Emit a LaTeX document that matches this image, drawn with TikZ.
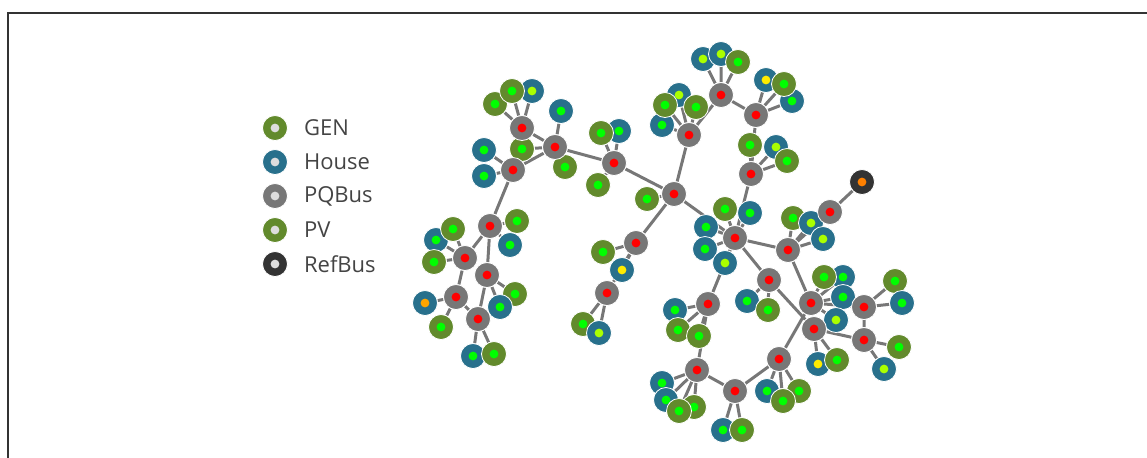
\documentclass[tikz,border=0pt]{standalone}
\usepackage{fontspec}
\setmainfont{Open Sans}
\usetikzlibrary{backgrounds}

\definecolor{busgray}{HTML}{777777}
\definecolor{olive}{HTML}{628A2C}
\definecolor{teal}{HTML}{28708C}
\definecolor{refdark}{HTML}{333333}
\definecolor{lime}{HTML}{00FF00}
\definecolor{chart}{HTML}{AAFF00}
\definecolor{amber}{HTML}{FFEB00}
\definecolor{orng}{HTML}{FFA500}
\definecolor{keydot}{HTML}{DDDDDD}
\definecolor{keytext}{HTML}{444444}

\begin{document}
\begin{tikzpicture}[x=0.5pt,y=-0.5pt,
	bus/.style={circle,draw=white,line width=0.4pt,minimum size=12.5pt,inner sep=0pt},
	dot/.style={path picture={\fill[#1] (path picture bounding box.center) circle (2.2pt);}},
	pq/.style={bus,fill=busgray,dot=red},
	pv/.style={bus,fill=olive,dot=#1}, pv/.default=lime,
	house/.style={bus,fill=teal,dot=#1}, house/.default=lime,
	refbus/.style={bus,fill=refdark,dot=orange},
	wire/.style={busgray,line width=1.5pt}]
	\useasboundingbox (0,0) rectangle (1147,457);
	\clip (0,0) rectangle (1147,457);
	% frame
	\draw[refdark,line width=1pt] (7.5,470) -- (7.5,12.5) -- (1160,12.5);

	% legend
	\node[pv=keydot] (k1) at (275,128) {};
	\node[house=keydot] (k2) at (275,162) {};
	\node[bus,fill=busgray,dot=keydot] (k3) at (275,196) {};
	\node[pv=keydot] (k4) at (275,230) {};
	\node[bus,fill=refdark,dot=keydot] (k5) at (275,264) {};
	\begin{scope}[every node/.style={anchor=west,text=keytext,font=\fontsize{11}{13}\selectfont}]
	\node at (297,128) {GEN};
	\node at (297,162) {House};
	\node at (297,196) {PQBus};
	\node at (297,230) {PV};
	\node at (297,264) {RefBus};
	\end{scope}

	% leaves
	\node[pv] (b1a) at (495,104) {};
	\node[house=chart] (b1c) at (532,91) {};
	\node[pv] (b1b) at (512,91) {};
	\node[house] (b2a) at (561,111) {};
	\node[pv] (b2b) at (522,149) {};
	\node[pv] (b2c) at (565,167) {};
	\node[house] (b3a) at (484,150) {};
	\node[house] (b3b) at (484,176) {};
	\node[house] (b4b) at (619,131) {};
	\node[pv] (b4a) at (601,133) {};
	\node[pv] (b4c) at (598,185) {};
	\node[pv] (b5a) at (647,199) {};
	\node[house=chart] (b6c) at (679,95) {};
	\node[house] (b6a) at (662,125) {};
	\node[pv] (b6b) at (665,105) {};
	\node[pv] (b6d) at (696,107) {};
	\node[house=chart] (b7a) at (703,59) {};
	\node[house=chart] (b7b) at (721,54) {};
	\node[pv] (b7c) at (738,62) {};
	\node[house=amber] (b8a) at (766,80) {};
	\node[house] (b8c) at (792,101) {};
	\node[pv] (b8b) at (784,84) {};
	\node[pv] (b9a) at (750,145) {};
	\node[house=chart] (b9b) at (776,147) {};
	\node[pv] (b9c) at (787,161) {};
	\node[pv] (b10a) at (603,252) {};
	\node[house=amber] (b10b) at (622,270) {};
	\node[pv] (b11a) at (583,324) {};
	\node[house=chart] (b11b) at (599,333) {};
	\node[pv] (b12a) at (725,209) {};
	\node[house] (b12b) at (750,213) {};
	\node[house] (b12c) at (706,227) {};
	\node[house] (b12d) at (705,249) {};
	\node[house=chart] (b12e) at (725,263) {};
	\node[pv] (b14a) at (793,218) {};
	\node[house=chart] (b14b) at (811,223) {};
	\node[house=chart] (b14c) at (823,239) {};
	\node[house] (b15a) at (747,301) {};
	\node[pv] (b15b) at (768,310) {};
	\node[house] (b16b) at (843,277) {};
	\node[pv] (b16a) at (824,277) {};
	\node[house] (b16c) at (843,297) {};
	\node[house=chart] (b16d) at (836,320) {};
	\node[pv] (b17a) at (895,281) {};
	\node[house] (b17b) at (902,303) {};
	\node[pv] (b18a) at (899,347) {};
	\node[house=chart] (b18b) at (884,369) {};
	\node[house=amber] (b19a) at (818,364) {};
	\node[pv] (b19b) at (837,360) {};
	\node[house] (b20a) at (675,310) {};
	\node[pv] (b20b) at (678,330) {};
	\node[pv] (b20c) at (699,336) {};
	\node[house] (b21a) at (662,383) {};
	\node[house] (b21b) at (666,400) {};
	\node[pv] (b21d) at (694,407) {};
	\node[pv] (b21c) at (679,411) {};
	\node[house] (b22a) at (723,430) {};
	\node[pv] (b22b) at (742,430) {};
	\node[house] (b23a) at (767,391) {};
	\node[pv] (b23c) at (799,391) {};
	\node[pv] (b23b) at (783,401) {};
	\node[pv] (b24a) at (517,221) {};
	\node[house] (b24b) at (510,245) {};
	\node[house] (b25a) at (436,240) {};
	\node[pv] (b25b) at (453,229) {};
	\node[pv] (b25c) at (434,262) {};
	\node[pv] (b26a) at (515,294) {};
	\node[house] (b26b) at (500,307) {};
	\node[house=orng] (b27a) at (425,303) {};
	\node[pv] (b27b) at (441,327) {};
	\node[house] (b28a) at (473,356) {};
	\node[pv] (b28b) at (494,354) {};

	% buses
	\node[pq] (b1) at (522,128) {};
	\node[pq] (b2) at (555,147) {};
	\node[pq] (b3) at (513,170) {};
	\node[pq] (b4) at (614,163) {};
	\node[pq] (b5) at (674,194) {};
	\node[pq] (b6) at (689,135) {};
	\node[pq] (b7) at (721,95) {};
	\node[pq] (b8) at (756,115) {};
	\node[pq] (b9) at (751,174) {};
	\node[pq] (b10) at (636,243) {};
	\node[pq] (b11) at (607,293) {};
	\node[pq] (b12) at (735,238) {};
	\node[pq] (b13) at (830,212) {};
	\node[pq] (b14) at (788,250) {};
	\node[pq] (b15) at (769,280) {};
	\node[pq] (b16) at (811,303) {};
	\node[pq] (b17) at (864,307) {};
	\node[pq] (b18) at (864,340) {};
	\node[pq] (b19) at (814,329) {};
	\node[pq] (b20) at (708,304) {};
	\node[pq] (b21) at (697,370) {};
	\node[pq] (b22) at (735,391) {};
	\node[pq] (b23) at (779,359) {};
	\node[pq] (b24) at (490,226) {};
	\node[pq] (b25) at (465,258) {};
	\node[pq] (b26) at (487,275) {};
	\node[pq] (b27) at (456,297) {};
	\node[pq] (b28) at (478,319) {};
	\node[refbus] (ref) at (862,182) {};

	\begin{pgfonlayer}{background}
	% lines between buses
	\draw[wire] (b1) -- (b2) -- (b3) (b2) -- (b4) -- (b5) -- (b6) -- (b7) -- (b8) -- (b9) -- (b12);
	\draw[wire] (b5) -- (b10) -- (b11) (b5) -- (b12) -- (b14) -- (b13) -- (ref);
	\draw[wire] (b12) -- (b15) -- (b19) -- (b18) -- (b17) -- (b16) -- (b14);
	\draw[wire] (b16) -- (b23) -- (b22) -- (b21) -- (b20) -- (b12);
	\draw[wire] (b3) -- (b24) -- (b25) -- (b27) -- (b28) -- (b26) -- (b24);
	% lines to the leaves
	\draw[wire] (b1) -- (b1a) (b1) -- (b1b) (b1) -- (b1c);
	\draw[wire] (b2) -- (b2a) (b2) -- (b2b) (b2) -- (b2c);
	\draw[wire] (b3) -- (b3a) (b3) -- (b3b);
	\draw[wire] (b4) -- (b4a) (b4) -- (b4b) (b4) -- (b4c);
	\draw[wire] (b5) -- (b5a);
	\draw[wire] (b6) -- (b6a) (b6) -- (b6b) (b6) -- (b6c) (b6) -- (b6d);
	\draw[wire] (b7) -- (b7a) (b7) -- (b7b) (b7) -- (b7c);
	\draw[wire] (b8) -- (b8a) (b8) -- (b8b) (b8) -- (b8c);
	\draw[wire] (b9) -- (b9a) (b9) -- (b9b) (b9) -- (b9c);
	\draw[wire] (b10) -- (b10a) (b10) -- (b10b);
	\draw[wire] (b11) -- (b11a) (b11) -- (b11b);
	\draw[wire] (b12) -- (b12a) (b12) -- (b12b) (b12) -- (b12c) (b12) -- (b12d) (b12) -- (b12e);
	\draw[wire] (b14) -- (b14a) (b14) -- (b14b) (b14) -- (b14c);
	\draw[wire] (b15) -- (b15a) (b15) -- (b15b);
	\draw[wire] (b16) -- (b16a) (b16) -- (b16b) (b16) -- (b16c) (b16) -- (b16d);
	\draw[wire] (b17) -- (b17a) (b17) -- (b17b);
	\draw[wire] (b18) -- (b18a) (b18) -- (b18b);
	\draw[wire] (b19) -- (b19a) (b19) -- (b19b);
	\draw[wire] (b20) -- (b20a) (b20) -- (b20b) (b20) -- (b20c);
	\draw[wire] (b21) -- (b21a) (b21) -- (b21b) (b21) -- (b21c) (b21) -- (b21d);
	\draw[wire] (b22) -- (b22a) (b22) -- (b22b);
	\draw[wire] (b23) -- (b23a) (b23) -- (b23b) (b23) -- (b23c);
	\draw[wire] (b24) -- (b24a) (b24) -- (b24b);
	\draw[wire] (b25) -- (b25a) (b25) -- (b25b) (b25) -- (b25c);
	\draw[wire] (b26) -- (b26a) (b26) -- (b26b);
	\draw[wire] (b27) -- (b27a) (b27) -- (b27b);
	\draw[wire] (b28) -- (b28a) (b28) -- (b28b);
	\end{pgfonlayer}
\end{tikzpicture}
\end{document}
